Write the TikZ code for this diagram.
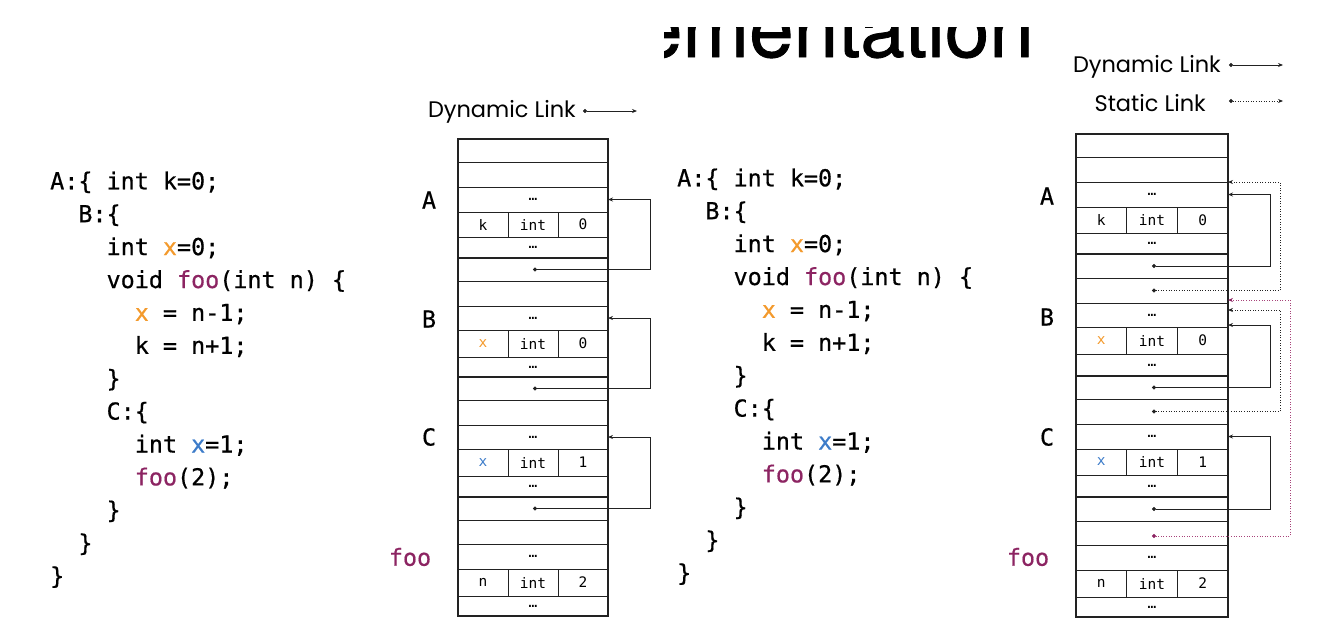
\documentclass[tikz,border=0pt]{standalone}
\usepackage{fontspec}
\setmonofont{DejaVu Sans Mono}
\newfontfamily\codefont{DejaVu Sans Mono}[FakeBold=0.6]
\newfontfamily\legendfont{Poppins}
\newfontfamily\titlefont{TeX Gyre Heros}[FakeBold=1]
\usetikzlibrary{arrows.meta,calc}
\definecolor{xorange}{HTML}{F39A2D}
\definecolor{xblue}{HTML}{3D7CC9}
\definecolor{foopurple}{HTML}{8C2462}
\definecolor{linkpurple}{HTML}{A8437A}
\definecolor{ink}{HTML}{222222}
\newcommand\stackrow[6]{\node[rowbox,anchor=north west,minimum width={#3-#2},minimum height={#5-#4}] (#1) at (#2,#4) {#6};}
\newcommand\varrow[8]{%
  \pgfmathsetmacro\cellw{(#3-#2)/3}%
  \node[rowbox,anchor=north west,minimum width=\cellw,minimum height={#5-#4}] (#11) at (#2,#4) {#6};
  \node[rowbox,anchor=north west,minimum width=\cellw,minimum height={#5-#4}] (#12) at (#11.north east) {#7};
  \node[rowbox,anchor=north west,minimum width=\cellw,minimum height={#5-#4}] (#13) at (#12.north east) {#8};}
\newcommand\codeline[4]{\node[code,anchor=base west] (#1) at (#2,#3) {#4};}
\begin{document}
\begin{tikzpicture}[x=1pt,y=-1pt,
  rowbox/.style={draw=ink,line width=0.9pt,inner sep=0pt,outer sep=0pt,font=\ttfamily\fontsize{14.5}{16}\selectfont},
  frame/.style={draw=ink,line width=2pt},
  sep/.style={draw=ink,line width=2pt},
  code/.style={inner sep=0pt,font=\codefont\fontsize{23.4}{28}\selectfont},
  lbl/.style={inner sep=0pt,font=\codefont\fontsize{23.4}{28}\selectfont},
  legend/.style={inner sep=0pt,font=\legendfont\fontsize{22.5}{26}\selectfont},
  dyn/.style={draw=ink,line width=0.8pt,{Circle[length=4pt]}-{Stealth[length=5pt,width=4pt]}},
  stat/.style={dyn,dash pattern=on 1pt off 1.6pt},
  pstat/.style={stat,draw=linkpurple,{Circle[length=4pt,color=foopurple]}-{Stealth[length=5pt,width=4pt,color=foopurple]}}
]
\useasboundingbox (0,0) rectangle (1344,638);

% title fragment
\begin{scope}
  \clip (664,27) rectangle (1040,60);
  \node[anchor=base east,inner sep=0pt,font=\titlefont\fontsize{80}{90}\selectfont] (title) at (1034,57) {Implementation};
\end{scope}

% ---------- left code ----------
\codeline{lc1}{50}{189.3}{A:\{ int k=0;}
\codeline{lc2}{78.2}{222.2}{B:\{}
\codeline{lc3}{106.4}{255.1}{int \textcolor{xorange}{x}=0;}
\codeline{lc4}{106.4}{288.0}{void \textcolor{foopurple}{foo}(int n) \{}
\codeline{lc5}{134.6}{320.9}{\textcolor{xorange}{x} = n-1;}
\codeline{lc6}{134.6}{353.8}{k = n+1;}
\codeline{lc7}{106.4}{386.7}{\}}
\codeline{lc8}{106.4}{419.6}{C:\{}
\codeline{lc9}{134.6}{452.5}{int \textcolor{xblue}{x}=1;}
\codeline{lc10}{134.6}{485.4}{\textcolor{foopurple}{foo}(2);}
\codeline{lc11}{106.4}{518.3}{\}}
\codeline{lc12}{78.2}{551.2}{\}}
\codeline{lc13}{50}{584.1}{\}}

% ---------- right code ----------
\codeline{rc1}{677}{186.3}{A:\{ int k=0;}
\codeline{rc2}{705.2}{219.2}{B:\{}
\codeline{rc3}{733.4}{252.1}{int \textcolor{xorange}{x}=0;}
\codeline{rc4}{733.4}{285.0}{void \textcolor{foopurple}{foo}(int n) \{}
\codeline{rc5}{761.6}{317.9}{\textcolor{xorange}{x} = n-1;}
\codeline{rc6}{761.6}{350.8}{k = n+1;}
\codeline{rc7}{733.4}{383.7}{\}}
\codeline{rc8}{733.4}{416.6}{C:\{}
\codeline{rc9}{761.6}{449.5}{int \textcolor{xblue}{x}=1;}
\codeline{rc10}{761.6}{482.4}{\textcolor{foopurple}{foo}(2);}
\codeline{rc11}{733.4}{515.3}{\}}
\codeline{rc12}{705.2}{548.2}{\}}
\codeline{rc13}{677}{581.1}{\}}

% ---------- left stack ----------
\stackrow{LT1}{458}{608}{139}{162}{}
\stackrow{LT2}{458}{608}{162}{187}{}
\stackrow{LA}{458}{608}{187}{212}{…}
\varrow{LAv}{458}{608}{212}{237}{k}{int}{0}
\stackrow{LAe}{458}{608}{237}{258}{…}
\stackrow{LdB}{458}{608}{258}{281}{}
\stackrow{LB0}{458}{608}{281}{306}{}
\stackrow{LB}{458}{608}{306}{330}{…}
\varrow{LBv}{458}{608}{330}{357}{\textcolor{xorange}{x}}{int}{0}
\stackrow{LBe}{458}{608}{357}{377}{…}
\stackrow{LdC}{458}{608}{377}{400}{}
\stackrow{LC0}{458}{608}{400}{425}{}
\stackrow{LC}{458}{608}{425}{449}{…}
\varrow{LCv}{458}{608}{449}{476}{\textcolor{xblue}{x}}{int}{1}
\stackrow{LCe}{458}{608}{476}{497}{…}
\stackrow{LdF}{458}{608}{497}{520}{}
\stackrow{LF0}{458}{608}{520}{544}{}
\stackrow{LF}{458}{608}{544}{569}{…}
\varrow{LFv}{458}{608}{569}{596}{n}{int}{2}
\stackrow{LFe}{458}{608}{596}{616}{…}
\draw[frame] (LT1.north west) rectangle (LFe.south east);
\draw[sep] (LdB.north west) -- (LdB.north east);
\draw[sep] (LdC.north west) -- (LdC.north east);
\draw[sep] (LdF.north west) -- (LdF.north east);

% left labels
\node[lbl] (lA) at (429,200) {A};
\node[lbl] (lB) at (429,319) {B};
\node[lbl] (lC) at (429,437) {C};
\node[lbl,text=foopurple] (lF) at (410,557) {foo};

% left links
\coordinate (Lbus) at (650,0);
\draw[dyn] (LdB.center) -| (Lbus |- LA.east) -- (LA.east);
\draw[dyn] (LdC.center) -| (Lbus |- LB.east) -- (LB.east);
\draw[dyn] (LdF.center) -| (Lbus |- LC.east) -- (LC.east);

% left legend
\node[legend,anchor=east] (ldl) at (576,112) {Dynamic Link};
\coordinate (ldl0) at (583,111);
\coordinate (ldl1) at (637,111);
\draw[dyn] (ldl0) -- (ldl1);

% ---------- right stack ----------
\stackrow{RT1}{1076}{1228}{134}{157}{}
\stackrow{RT2}{1076}{1228}{157}{182}{}
\stackrow{RA}{1076}{1228}{182}{207}{…}
\varrow{RAv}{1076}{1228}{207}{233}{k}{int}{0}
\stackrow{RAe}{1076}{1228}{233}{254}{…}
\stackrow{RdB}{1076}{1228}{254}{278}{}
\stackrow{RsB}{1076}{1228}{278}{303}{}
\stackrow{RB}{1076}{1228}{303}{327}{…}
\varrow{RBv}{1076}{1228}{327}{354}{\textcolor{xorange}{x}}{int}{0}
\stackrow{RBe}{1076}{1228}{354}{376}{…}
\stackrow{RdC}{1076}{1228}{376}{399}{}
\stackrow{RsC}{1076}{1228}{399}{424}{}
\stackrow{RC}{1076}{1228}{424}{449}{…}
\varrow{RCv}{1076}{1228}{449}{475}{\textcolor{xblue}{x}}{int}{1}
\stackrow{RCe}{1076}{1228}{475}{497}{…}
\stackrow{RdF}{1076}{1228}{497}{521}{}
\stackrow{RsF}{1076}{1228}{521}{545}{}
\stackrow{RF}{1076}{1228}{545}{570}{…}
\varrow{RFv}{1076}{1228}{570}{597}{n}{int}{2}
\stackrow{RFe}{1076}{1228}{597}{617}{…}
\draw[frame] (RT1.north west) rectangle (RFe.south east);
\draw[sep] (RdB.north west) -- (RdB.north east);
\draw[sep] (RdC.north west) -- (RdC.north east);
\draw[sep] (RdF.north west) -- (RdF.north east);

% right labels
\node[lbl] (rA) at (1047,196) {A};
\node[lbl] (rB) at (1047,317) {B};
\node[lbl] (rC) at (1047,437) {C};
\node[lbl,text=foopurple] (rF) at (1028,557) {foo};

% right links
\coordinate (Rdyn) at (1270,0);
\coordinate (Rstat) at (1280,0);
\coordinate (Rpur) at (1290,0);
\draw[dyn] (RdB.center) -| (Rdyn |- RA.east) -- (RA.east);
\draw[stat] (RsB.center) -| (Rstat |- RA.north east) -- (RA.north east);
\draw[dyn] (RdC.center) -| (Rdyn |- {$(RB.south east)+(0,-2)$}) -- ($(RB.south east)+(0,-2)$);
\draw[stat] (RsC.center) -| (Rstat |- {$(RB.north east)+(0,7)$}) -- ($(RB.north east)+(0,7)$);
\draw[pstat] ($(RsF.center)+(0,3)$) -| (Rpur |- {$(RsB.south east)+(0,-3)$}) -- ($(RsB.south east)+(0,-3)$);
\draw[dyn] (RdF.center) -| (Rdyn |- RC.east) -- (RC.east);

% right legend
\node[legend,anchor=east] (rdl) at (1221,67) {Dynamic Link};
\node[legend,anchor=east] (rsl) at (1206,103) {Static Link};
\coordinate (rdl0) at (1229,65);
\coordinate (rdl1) at (1283,65);
\coordinate (rsl0) at (1229,101);
\coordinate (rsl1) at (1283,101);
\draw[dyn] (rdl0) -- (rdl1);
\draw[stat] (rsl0) -- (rsl1);
\end{tikzpicture}
\end{document}
